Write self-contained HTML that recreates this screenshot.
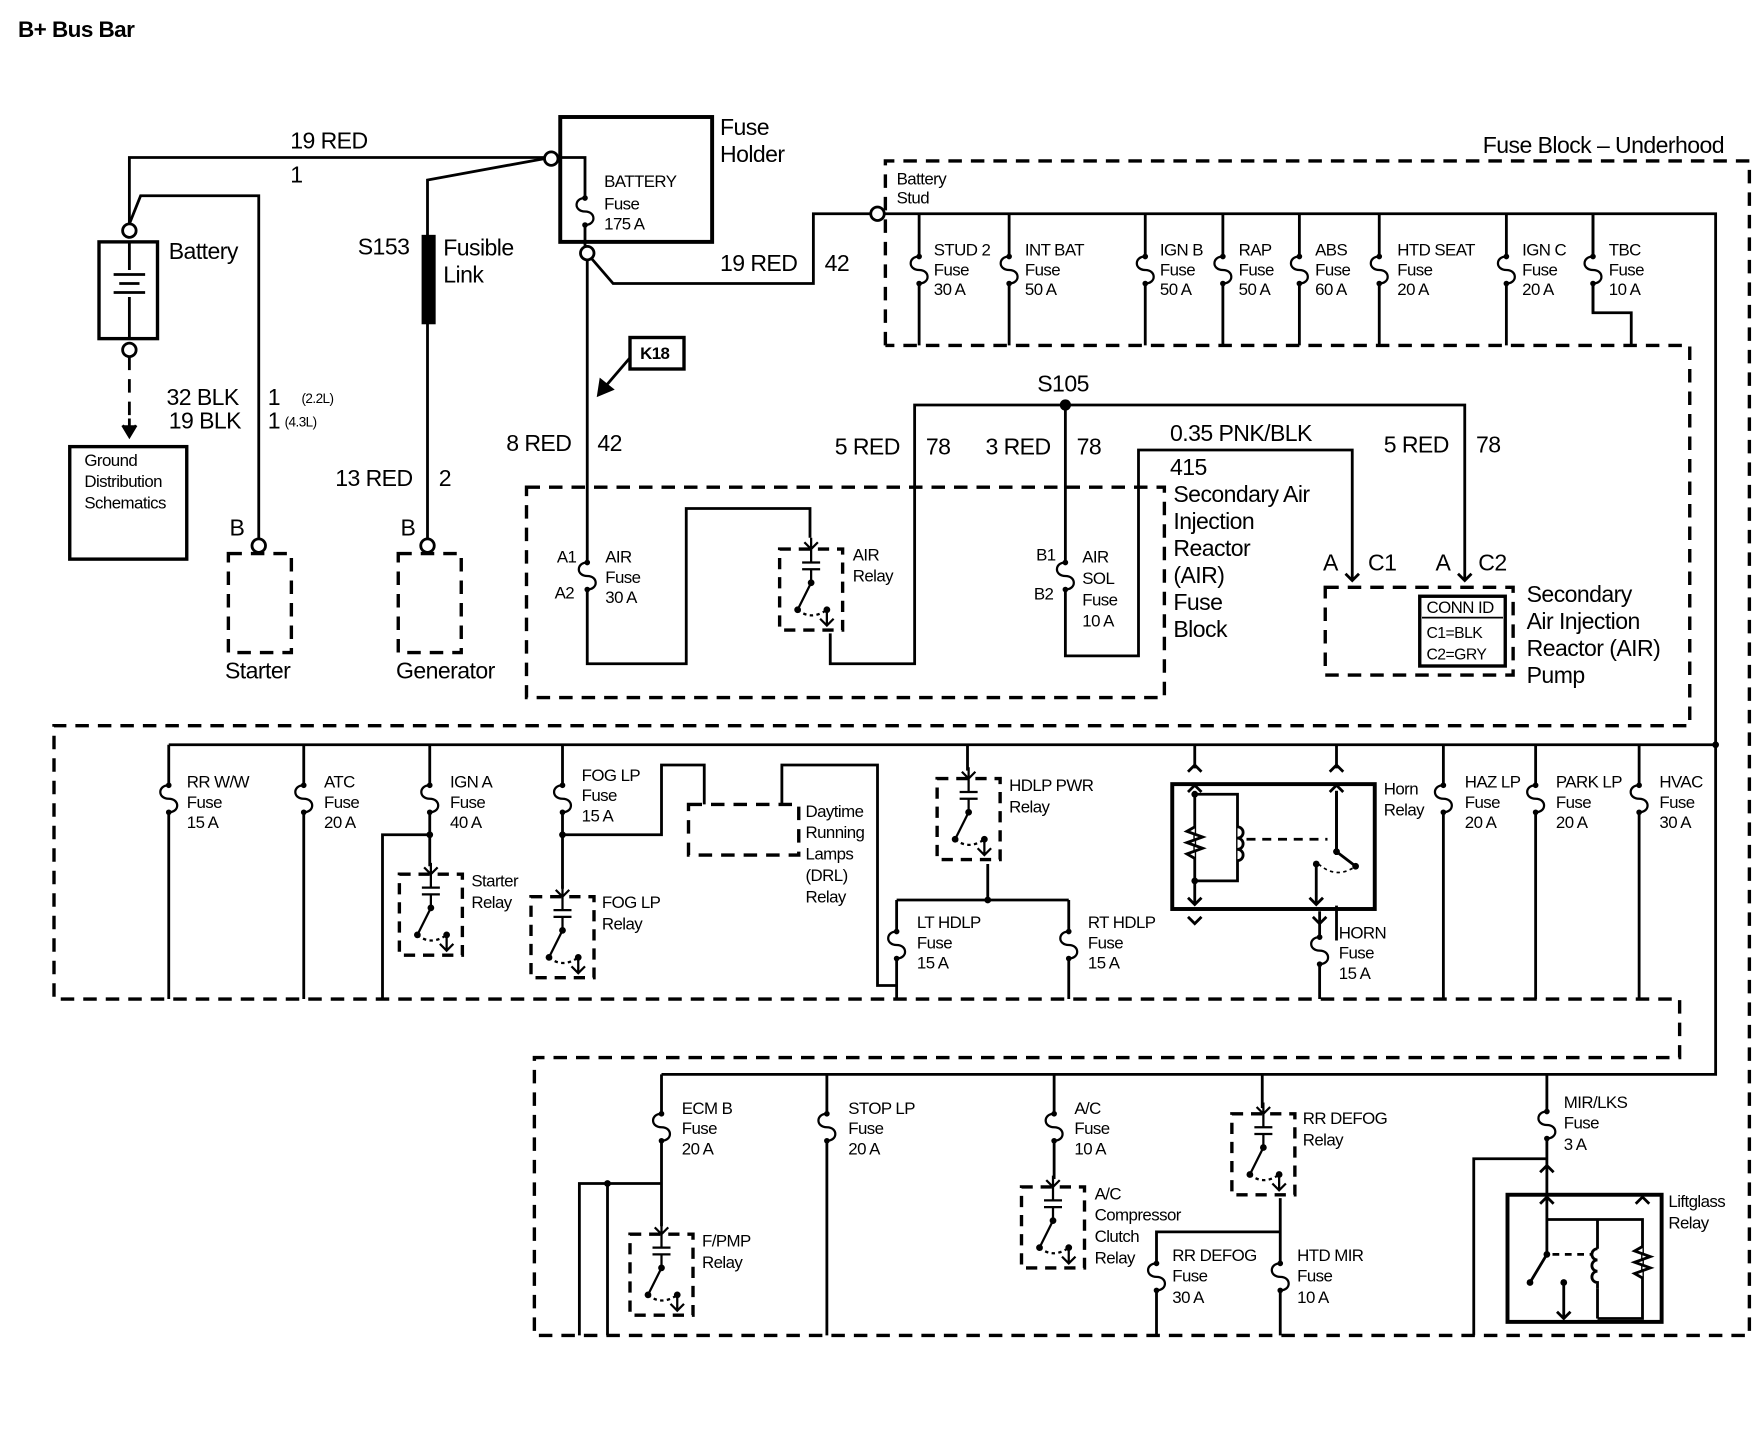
<!DOCTYPE html>
<html><head><meta charset="utf-8"><style>
html,body{margin:0;padding:0;background:#fff}
svg{display:block}
text{font-family:"Liberation Sans",Arial,sans-serif;fill:#000;letter-spacing:-0.5px}
.s{font-size:15px}.m{font-size:20.5px}.b{font-weight:bold}
</style></head><body>
<svg width="1764" height="1440" viewBox="0 0 1568 1280" xmlns="http://www.w3.org/2000/svg">
<defs>
<g id="f"><rect x="-3" y="-13" width="6" height="26" fill="#fff"/><path d="M0,-12 c-10,0 -10,12 0,12 c10,0 10,12 0,12" fill="none" stroke="#000" stroke-width="2"/><circle cx="0" cy="-12" r="2.5"/><circle cx="0" cy="12" r="2.5"/></g>
<g id="r" fill="none" stroke="#000" stroke-width="2">
<rect x="0" y="0" width="56" height="72" stroke-width="3" stroke-dasharray="10,7" fill="#fff"/>
<path d="M28,-10 V12 M20,12 H36 M20,18 H36 M28,18 V30 L16,54 M42,54 V68 M36,62 L42,68 L48,62 M22,-6 L28,0 L34,-6"/>
<path d="M16,54 Q28,64 42,54" stroke-dasharray="3,3"/>
<circle cx="28" cy="30" r="2" fill="#000"/><circle cx="16" cy="54" r="2" fill="#000"/><circle cx="42" cy="54" r="2" fill="#000"/>
</g>
</defs>
<text x="16" y="33" class="b" style="font-size:20px">B+ Bus Bar</text>
<g fill="none" stroke="#000" stroke-width="2.5">
<path d="M115,199 V140 H484"/>
<path d="M115,199 L125,174 H230 V479"/>
<circle cx="115" cy="205" r="6" fill="#fff"/>
<rect x="88" y="215" width="52" height="86" stroke-width="3"/>
<path d="M115,215 V240 M101,244 H129 M106,252 H124 M101,260 H129 M115,264 V301"/>
<circle cx="115" cy="311" r="6" fill="#fff"/>
<path d="M115,317 V370" stroke-dasharray="12,8"/>
<path d="M115,372 V385 M109,378 L115,388 L121,378" fill="#000"/>
<rect x="62" y="397" width="104" height="100" stroke-width="3"/>
<circle cx="230" cy="485" r="6" fill="#fff"/>
<rect x="203" y="492" width="56" height="88" stroke-width="3" stroke-dasharray="12,8"/>
<path d="M484,141 L380,160 V210 M380,287 V479"/>
<rect x="376" y="210" width="10" height="77" fill="#000"/>
<circle cx="380" cy="485" r="6" fill="#fff"/>
<rect x="354" y="492" width="56" height="88" stroke-width="3" stroke-dasharray="12,8"/>
<rect x="498" y="104" width="135" height="111" stroke-width="3.5"/>
<circle cx="490" cy="141" r="6" fill="#fff"/>
<path d="M496,140 H520 V175 M520,200 V219"/>
<circle cx="522" cy="225" r="6" fill="#fff"/>
<path d="M526,230 L545,252 H723 V190 H774"/>
<circle cx="780" cy="190" r="6" fill="#fff"/>
<path d="M522,231 V590 H610 V452 H720 V478 M738,563 V590 H813 V360 H1302 V515"/>
<rect x="560" y="300" width="48" height="28" stroke-width="3"/>
<path d="M560,318 L536,346"/>
<path d="M532,351 L534,338 L544,346 Z" fill="#000"/>
<path d="M787,307 V143 H1555 V1187 H475 V940 H1493 V888 H48 V645 H1502 V307 H787 M468,433 H1035 V620 H468 Z M1178,522 H1345 V600 H1178 Z" stroke-width="3" stroke-dasharray="12,8"/>
<path d="M786,190 H1525 V955 H588 M1416,190 V278 H1450 V307"/>
<path d="M817,190 V307 M897,190 V307 M1018,190 V307 M1087,190 V307 M1155,190 V307 M1226,190 V307 M1339,190 V307 M1416,190 V278"/>
<path d="M947,360 V583 H1012 V400 H1202 V515 M1196,510 L1202,516 L1208,510 M1296,510 L1302,516 L1308,510"/>
<rect x="1262" y="530" width="76" height="62" stroke-width="3"/>
<path d="M1264,549 H1336" stroke-width="1.5"/>
<path d="M150,662 H1525"/>
<path d="M150,662 V888 M270,662 V888 M382,662 V742 H340 V888 M382,742 V770 M500,662 V742 H588 V680 H626 V715 M500,742 V790 M695,715 V680 H780 V876 H797"/>
<rect x="612" y="715" width="98" height="45" stroke-width="3" stroke-dasharray="12,8"/>
<path d="M860,662 V685 M878,768 V800 M797,800 H950 M797,800 V888 M950,800 V888 M1173,810 V888 M1283,662 V888 M1365,662 V888 M1457,662 V888"/>
<rect x="1042" y="697" width="180" height="111" stroke-width="3.5"/>
<path d="M1062,662 V683 M1062,703 V804 M1188,662 V683 M1188,703 V836 M1062,706 H1100 V783 H1062 M1188,836 V836"/>
<path d="M1062,735 l-7,4 l14,5 l-14,5 l14,5 l-14,5 l7,4" fill="#fff"/>
<path d="M1100,735 a5,5 0 0 1 0,10 a5,5 0 0 1 0,10 a5,5 0 0 1 0,10" fill="#fff"/>
<rect x="1120" y="760" width="80" height="45" fill="#fff" stroke="none"/>
<path d="M1188,703 V757 L1205,770 M1170,768 V804"/>
<path d="M1106,845 H1106"/>
<path d="M1108,746 H1180" stroke-dasharray="8,6"/>
<path d="M1172,768 Q1188,782 1205,770" stroke-dasharray="3,3" stroke-width="1.5"/>
<path d="M1056,686 L1062,680 L1068,686 M1182,686 L1188,680 L1194,686 M1056,815 L1062,821 L1068,815 M1167,815 L1173,821 L1179,815 M1056,704 L1062,698 L1068,704 M1182,704 L1188,698 L1194,704 M1056,798 L1062,804 L1068,798 M1164,798 L1170,804 L1176,798"/>
<path d="M588,955 V1052 H515 V1187 M540,1052 V1187 M588,1052 V1090 M735,955 V1187 M937,955 V1048 M1122,955 V985 M1138,1065 V1187 M1138,1095 H1028 V1187 M1375,955 V1030 H1310 V1187 M1375,1030 V1062"/>
<rect x="1340" y="1062" width="137" height="113" stroke-width="3.5"/>
<path d="M1375,1062 V1115 L1360,1140 M1390,1140 V1172 M1375,1084 H1460 V1172 H1420 M1420,1084 V1110 M1420,1145 V1172"/>
<path d="M1420,1110 a5,5 0 0 0 0,10 a5,5 0 0 0 0,10 a5,5 0 0 0 0,10 l0,5"/>
<path d="M1460,1108 l-7,4 l14,5 l-14,5 l14,5 l-14,5 l7,4" fill="#fff"/>
<path d="M1380,1115 H1414" stroke-dasharray="6,5"/>
<path d="M1369,1042 L1375,1036 L1381,1042 M1369,1070 L1375,1064 L1381,1070 M1454,1070 L1460,1064 L1466,1070 M1384,1166 L1390,1172 L1396,1166"/>
</g>
<g>
<circle cx="1062" cy="706" r="3"/><circle cx="1062" cy="783" r="3"/><circle cx="1188" cy="757" r="3"/><circle cx="1205" cy="770" r="3"/><circle cx="1170" cy="768" r="3"/>
<circle cx="1375" cy="1115" r="3"/><circle cx="1360" cy="1140" r="3"/><circle cx="1390" cy="1140" r="3"/>
</g>
<use href="#r" x="355" y="777"/><use href="#r" x="472" y="797"/><use href="#r" x="693" y="488"/>
<use href="#r" x="833" y="692"/><use href="#r" x="560" y="1097"/><use href="#r" x="908" y="1055"/><use href="#r" x="1095" y="990"/>
<g>
<use href="#f" x="520" y="188"/>
<use href="#f" x="817" y="240"/><use href="#f" x="897" y="240"/><use href="#f" x="1018" y="240"/><use href="#f" x="1087" y="240"/><use href="#f" x="1155" y="240"/><use href="#f" x="1226" y="240"/><use href="#f" x="1339" y="240"/><use href="#f" x="1416" y="240"/>
<use href="#f" x="522" y="512"/><use href="#f" x="947" y="512"/>
<use href="#f" x="150" y="710"/><use href="#f" x="270" y="710"/><use href="#f" x="382" y="710"/><use href="#f" x="500" y="710"/>
<use href="#f" x="1283" y="710"/><use href="#f" x="1365" y="710"/><use href="#f" x="1457" y="710"/>
<use href="#f" x="797" y="840"/><use href="#f" x="950" y="840"/><use href="#f" x="1173" y="845"/>
<use href="#f" x="588" y="1002"/><use href="#f" x="735" y="1002"/><use href="#f" x="937" y="1002"/><use href="#f" x="1375" y="1000"/>
<use href="#f" x="1028" y="1135"/><use href="#f" x="1138" y="1135"/>
<circle cx="947" cy="360" r="5"/><circle cx="1525" cy="662" r="3"/><circle cx="540" cy="1052" r="3"/><circle cx="382" cy="742" r="3"/><circle cx="500" cy="742" r="3"/><circle cx="878" cy="800" r="3"/>
</g>
<g class="m">
<text x="258" y="132">19 RED</text><text x="258" y="162">1</text>
<text x="150" y="230">Battery</text>
<text x="318" y="226">S153</text><text x="394" y="227">Fusible</text><text x="394" y="251">Link</text>
<text x="640" y="120">Fuse</text><text x="640" y="144">Holder</text>
<text x="640" y="241">19 RED</text><text x="733" y="241">42</text>
<text x="148" y="360">32 BLK</text><text x="238" y="360">1</text>
<text x="150" y="381">19 BLK</text><text x="238" y="381">1</text>
<text x="450" y="401">8 RED</text><text x="531" y="401">42</text>
<text x="298" y="432">13 RED</text><text x="390" y="432">2</text>
<text x="204" y="476">B</text><text x="356" y="476">B</text>
<text x="200" y="603">Starter</text><text x="352" y="603">Generator</text>
<text x="1318" y="136">Fuse Block – Underhood</text>
<text x="922" y="348">S105</text>
<text x="742" y="404">5 RED</text><text x="823" y="404">78</text>
<text x="876" y="404">3 RED</text><text x="957" y="404">78</text>
<text x="1040" y="392">0.35 PNK/BLK</text><text x="1040" y="422">415</text>
<text x="1230" y="402">5 RED</text><text x="1312" y="402">78</text>
<text x="1043" y="446">Secondary Air</text><text x="1043" y="470">Injection</text><text x="1043" y="494">Reactor</text><text x="1043" y="518">(AIR)</text><text x="1043" y="542">Fuse</text><text x="1043" y="566">Block</text>
<text x="1176" y="507">A</text><text x="1216" y="507">C1</text><text x="1276" y="507">A</text><text x="1314" y="507">C2</text>
<text x="1357" y="535">Secondary</text><text x="1357" y="559">Air Injection</text><text x="1357" y="583">Reactor (AIR)</text><text x="1357" y="607">Pump</text>
</g>
<g class="s">
<text x="268" y="358" style="font-size:12px">(2.2L)</text><text x="253" y="379" style="font-size:12px">(4.3L)</text>
<text x="537" y="166">BATTERY</text><text x="537" y="186">Fuse</text><text x="537" y="204">175 A</text>
<text x="569" y="319" class="b">K18</text>
<text x="75" y="414">Ground</text><text x="75" y="433">Distribution</text><text x="75" y="452">Schematics</text>
<text x="797" y="164">Battery</text><text x="797" y="181">Stud</text>
<text x="830" y="227">STUD 2</text><text x="830" y="245">Fuse</text><text x="830" y="262">30 A</text>
<text x="911" y="227">INT BAT</text><text x="911" y="245">Fuse</text><text x="911" y="262">50 A</text>
<text x="1031" y="227">IGN B</text><text x="1031" y="245">Fuse</text><text x="1031" y="262">50 A</text>
<text x="1101" y="227">RAP</text><text x="1101" y="245">Fuse</text><text x="1101" y="262">50 A</text>
<text x="1169" y="227">ABS</text><text x="1169" y="245">Fuse</text><text x="1169" y="262">60 A</text>
<text x="1242" y="227">HTD SEAT</text><text x="1242" y="245">Fuse</text><text x="1242" y="262">20 A</text>
<text x="1353" y="227">IGN C</text><text x="1353" y="245">Fuse</text><text x="1353" y="262">20 A</text>
<text x="1430" y="227">TBC</text><text x="1430" y="245">Fuse</text><text x="1430" y="262">10 A</text>
<text x="495" y="500">A1</text><text x="493" y="532">A2</text>
<text x="538" y="500">AIR</text><text x="538" y="518">Fuse</text><text x="538" y="536">30 A</text>
<text x="758" y="498">AIR</text><text x="758" y="517">Relay</text>
<text x="921" y="498">B1</text><text x="919" y="533">B2</text>
<text x="962" y="500">AIR</text><text x="962" y="519">SOL</text><text x="962" y="538">Fuse</text><text x="962" y="557">10 A</text>
<text x="1268" y="545">CONN ID</text><text x="1268" y="567" style="font-size:14px">C1=BLK</text><text x="1268" y="586" style="font-size:14px">C2=GRY</text>
<text x="166" y="700">RR W/W</text><text x="166" y="718">Fuse</text><text x="166" y="736">15 A</text>
<text x="288" y="700">ATC</text><text x="288" y="718">Fuse</text><text x="288" y="736">20 A</text>
<text x="400" y="700">IGN A</text><text x="400" y="718">Fuse</text><text x="400" y="736">40 A</text>
<text x="517" y="694">FOG LP</text><text x="517" y="712">Fuse</text><text x="517" y="730">15 A</text>
<text x="716" y="726">Daytime</text><text x="716" y="745">Running</text><text x="716" y="764">Lamps</text><text x="716" y="783">(DRL)</text><text x="716" y="802">Relay</text>
<text x="897" y="703">HDLP PWR</text><text x="897" y="722">Relay</text>
<text x="419" y="788">Starter</text><text x="419" y="807">Relay</text>
<text x="535" y="807">FOG LP</text><text x="535" y="826">Relay</text>
<text x="815" y="825">LT HDLP</text><text x="815" y="843">Fuse</text><text x="815" y="861">15 A</text>
<text x="967" y="825">RT HDLP</text><text x="967" y="843">Fuse</text><text x="967" y="861">15 A</text>
<text x="1230" y="706">Horn</text><text x="1230" y="725">Relay</text>
<text x="1190" y="834">HORN</text><text x="1190" y="852">Fuse</text><text x="1190" y="870">15 A</text>
<text x="1302" y="700">HAZ LP</text><text x="1302" y="718">Fuse</text><text x="1302" y="736">20 A</text>
<text x="1383" y="700">PARK LP</text><text x="1383" y="718">Fuse</text><text x="1383" y="736">20 A</text>
<text x="1475" y="700">HVAC</text><text x="1475" y="718">Fuse</text><text x="1475" y="736">30 A</text>
<text x="606" y="990">ECM B</text><text x="606" y="1008">Fuse</text><text x="606" y="1026">20 A</text>
<text x="754" y="990">STOP LP</text><text x="754" y="1008">Fuse</text><text x="754" y="1026">20 A</text>
<text x="955" y="990">A/C</text><text x="955" y="1008">Fuse</text><text x="955" y="1026">10 A</text>
<text x="1158" y="999">RR DEFOG</text><text x="1158" y="1018">Relay</text>
<text x="1390" y="985">MIR/LKS</text><text x="1390" y="1003">Fuse</text><text x="1390" y="1022">3 A</text>
<text x="1483" y="1073">Liftglass</text><text x="1483" y="1092">Relay</text>
<text x="973" y="1066">A/C</text><text x="973" y="1085">Compressor</text><text x="973" y="1104">Clutch</text><text x="973" y="1123">Relay</text>
<text x="1042" y="1121">RR DEFOG</text><text x="1042" y="1139">Fuse</text><text x="1042" y="1158">30 A</text>
<text x="1153" y="1121">HTD MIR</text><text x="1153" y="1139">Fuse</text><text x="1153" y="1158">10 A</text>
<text x="624" y="1108">F/PMP</text><text x="624" y="1127">Relay</text>
</g>
</svg>
</body></html>
